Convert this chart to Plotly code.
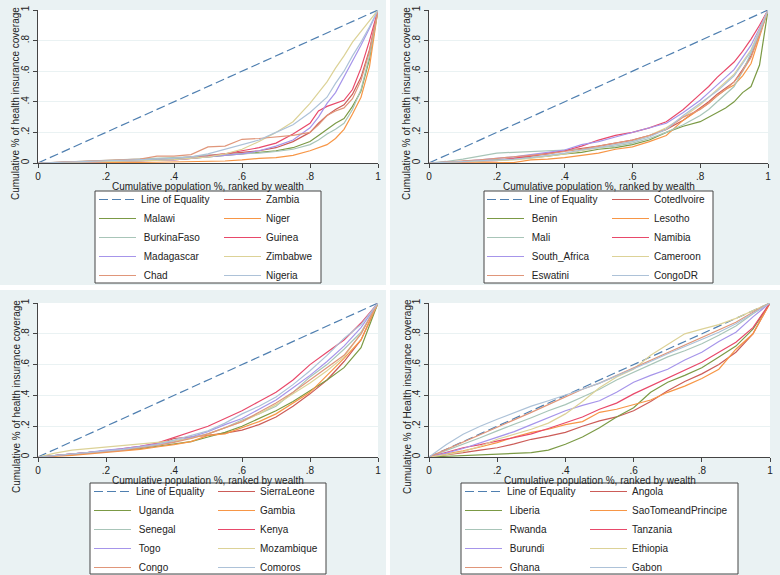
import plotly.graph_objects as go

W, H = 780, 575

# cumulative population share (x) used for the curves
pop_fine = [0, .05, .1, .15, .2, .25, .3, .35, .4, .45, .5, .55, .6, .65, .7, .75,
            .8, .825, .85, .875, .9, .925, .95, .975, 1]
pop_coarse = [0, .05, .1, .15, .2, .25, .3, .35, .4, .45, .5, .55, .6, .65, .7, .75,
              .8, .85, .9, .95, 1]
equality = [0, 1]

tick_vals = [0, .2, .4, .6, .8, 1]
tick_text = ["0", ".2", ".4", ".6", ".8", "1"]

x_title = "Cumulative population %, ranked by wealth"
y_titles = ["Cumulative % of health insurance coverage",
            "Cumulative % of health insurance coverage",
            "Cumulative % of health insurance coverage",
            "Cumulative % of Health insurance coverage"]

# panel 1
panel1 = {
    "Zambia":      [0, .003, .006, .01, .013, .016, .02, .025, .03, .04, .05, .06, .07, .08, .1, .14, .2, .26, .31, .35, .38, .45, .56, .74, 1],
    "Malawi":      [0, .002, .005, .008, .01, .013, .016, .02, .025, .03, .04, .05, .06, .07, .08, .1, .14, .18, .22, .26, .29, .37, .47, .68, 1],
    "Niger":       [0, 0, 0, .001, .002, .003, .004, .005, .006, .008, .01, .013, .02, .03, .035, .05, .08, .1, .12, .16, .22, .32, .43, .63, 1],
    "BurkinaFaso": [0, .004, .008, .012, .016, .02, .026, .03, .035, .04, .05, .055, .06, .065, .075, .09, .12, .15, .19, .22, .26, .35, .48, .7, 1],
    "Guinea":      [0, .002, .004, .006, .008, .01, .013, .016, .02, .03, .045, .06, .08, .1, .13, .19, .26, .34, .37, .39, .41, .48, .62, .8, 1],
    "Madagascar":  [0, .002, .004, .006, .008, .01, .012, .015, .02, .03, .04, .05, .06, .08, .11, .15, .23, .3, .39, .46, .56, .66, .77, .88, 1],
    "Zimbabwe":    [0, .002, .004, .006, .008, .01, .013, .017, .022, .03, .04, .06, .09, .14, .2, .27, .39, .46, .53, .62, .7, .79, .86, .93, 1],
    "Chad":        [0, .004, .008, .012, .016, .02, .025, .045, .045, .055, .105, .11, .155, .16, .17, .18, .2, .25, .31, .34, .36, .42, .54, .73, 1],
    "Nigeria":     [0, .003, .006, .009, .012, .015, .02, .025, .03, .04, .06, .09, .12, .15, .2, .25, .33, .38, .43, .52, .6, .7, .79, .89, 1],
}

# panel 2
panel2 = {
    "Cotedlvoire":  [0, .005, .01, .015, .02, .03, .045, .06, .08, .095, .11, .13, .15, .18, .22, .28, .36, .4, .45, .49, .53, .61, .7, .84, 1],
    "Benin":        [0, .005, .01, .015, .02, .025, .035, .045, .06, .07, .09, .1, .12, .15, .2, .24, .27, .3, .33, .36, .4, .46, .5, .64, 1],
    "Lesotho":      [0, 0, 0, 0, 0, .003, .02, .025, .035, .05, .065, .09, .105, .14, .18, .28, .35, .39, .44, .48, .51, .57, .65, .82, 1],
    "Mali":         [0, .01, .025, .045, .065, .07, .075, .08, .085, .09, .1, .11, .13, .16, .2, .25, .31, .35, .4, .45, .5, .6, .72, .84, 1],
    "Namibia":      [0, .003, .007, .01, .015, .03, .05, .065, .08, .11, .15, .18, .2, .23, .27, .35, .45, .5, .56, .61, .66, .73, .81, .9, 1],
    "South_Africa": [0, .005, .01, .02, .03, .04, .055, .07, .085, .12, .14, .17, .2, .23, .26, .33, .41, .46, .51, .56, .61, .69, .77, .88, 1],
    "Cameroon":     [0, .004, .008, .012, .016, .02, .03, .045, .06, .08, .1, .12, .14, .18, .23, .3, .38, .43, .48, .53, .58, .66, .74, .87, 1],
    "Eswatini":     [0, .006, .012, .02, .03, .04, .05, .06, .075, .09, .11, .13, .15, .18, .22, .3, .35, .39, .44, .48, .53, .6, .69, .84, 1],
    "CongoDR":      [0, .005, .01, .015, .02, .025, .035, .05, .065, .085, .1, .12, .14, .17, .22, .31, .39, .43, .47, .52, .57, .65, .73, .86, 1],
}

# panel 3
panel3 = {
    "SierraLeone": [0, .01, .02, .03, .04, .05, .065, .08, .12, .13, .14, .155, .175, .21, .26, .33, .41, .5, .62, .76, 1],
    "Uganda":      [0, .008, .016, .024, .035, .045, .055, .07, .085, .1, .13, .16, .2, .25, .3, .36, .43, .5, .58, .71, 1],
    "Gambia":      [0, .005, .01, .02, .03, .04, .05, .065, .08, .1, .14, .15, .19, .23, .28, .35, .42, .53, .64, .76, 1],
    "Senegal":     [0, .01, .02, .03, .04, .05, .065, .08, .1, .125, .15, .19, .24, .28, .33, .42, .52, .6, .7, .81, 1],
    "Kenya":       [0, .01, .02, .03, .04, .055, .07, .09, .125, .16, .2, .25, .3, .36, .42, .5, .6, .68, .76, .87, 1],
    "Togo":        [0, .01, .02, .03, .045, .055, .07, .085, .1, .13, .165, .21, .25, .31, .37, .45, .53, .62, .72, .84, 1],
    "Mozambique":  [0, .025, .045, .055, .065, .075, .085, .095, .105, .12, .15, .19, .23, .28, .34, .41, .48, .56, .65, .8, 1],
    "Congo":       [0, .008, .016, .025, .035, .045, .06, .075, .095, .12, .15, .19, .23, .29, .35, .42, .5, .58, .66, .8, 1],
    "Comoros":     [0, .01, .02, .03, .04, .05, .065, .08, .11, .14, .17, .22, .28, .33, .39, .47, .56, .66, .77, .86, 1],
}

# panel 4
panel4 = {
    "Angola":             [0, .012, .028, .045, .06, .085, .115, .135, .16, .2, .235, .26, .3, .36, .43, .49, .54, .6, .68, .8, 1],
    "Liberia":            [0, .005, .01, .013, .017, .022, .028, .045, .083, .13, .19, .26, .32, .42, .485, .53, .58, .65, .72, .83, 1],
    "SaoTomeandPrincipe": [0, .02, .04, .065, .093, .13, .16, .18, .21, .23, .29, .31, .34, .37, .42, .46, .51, .57, .7, .8, 1],
    "Rwanda":             [0, .04, .083, .125, .17, .21, .255, .3, .34, .39, .44, .5, .55, .6, .65, .69, .735, .79, .85, .93, 1],
    "Tanzania":           [0, .03, .06, .08, .104, .125, .15, .185, .22, .26, .31, .35, .41, .46, .51, .56, .615, .68, .745, .84, 1],
    "Burundi":            [0, .025, .055, .09, .126, .165, .21, .255, .3, .335, .365, .42, .485, .53, .57, .63, .68, .75, .81, .91, 1],
    "Ethiopia":           [0, .015, .035, .07, .115, .145, .18, .22, .28, .36, .45, .52, .57, .66, .73, .8, .83, .86, .9, .95, 1],
    "Ghana":              [0, .048, .095, .143, .19, .24, .29, .34, .39, .44, .48, .53, .58, .63, .68, .73, .78, .83, .875, .94, 1],
    "Gabon":              [0, .08, .148, .2, .245, .29, .33, .365, .4, .44, .48, .525, .57, .62, .67, .715, .76, .81, .865, .935, 1],
}

eq_color = "#4f7fb0"
series_colors = ["#cc5c58", "#7b9a45", "#f79646", "#a8c5b8", "#e8496a",
                 "#a695ea", "#dcd297", "#e0967a", "#adc2d8"]
panel_bg = "#eaf2f3"
axis_col = "#444444"
font_family = "Liberation Sans, Arial, sans-serif"


def px(x):
    return x / W


def py(y):
    return 1 - y / H


# pixel layout of each panel: background, plot area, legend box, legend columns
panels = [
    dict(data=panel1, x=pop_fine, bg=(0, 0, 386, 285), plot=(38, 10, 378, 163),
         box=(95, 191, 321, 283), cols=(94, 219), ytx=16),
    dict(data=panel2, x=pop_fine, bg=(390, 0, 780, 285), plot=(429, 10, 768, 163),
         box=(484, 191, 713, 283), cols=(482, 607), ytx=407),
    dict(data=panel3, x=pop_coarse, bg=(0, 290, 386, 575), plot=(38, 303, 378, 457),
         box=(90, 483, 326, 574), cols=(89, 213), ytx=16),
    dict(data=panel4, x=pop_coarse, bg=(390, 290, 780, 575), plot=(429, 303, 770, 457),
         box=(461, 483, 738, 574), cols=(460, 585), ytx=407),
]

fig = go.Figure()
shapes, annotations = [], []
layout = {}

for p, pan in enumerate(panels):
    n = "" if p == 0 else str(p + 1)
    left_leg = "legend" if p == 0 else f"legend{2 * p + 1}"
    right_leg = f"legend{2 * p + 2}"
    x0, y0, x1, y1 = pan["plot"]

    fig.add_trace(go.Scatter(
        x=equality, y=equality, mode="lines", name="Line of Equality",
        line=dict(color=eq_color, width=1.2, dash="9px,4px"),
        xaxis="x" + n, yaxis="y" + n, legend=left_leg, hoverinfo="skip"
    ))
    for k, (country, vals) in enumerate(pan["data"].items()):
        pos = k + 1
        on_left = pos % 2 == 0
        fig.add_trace(go.Scatter(
            x=pan["x"], y=vals, mode="lines",
            name=("\u00a0" + country) if on_left else country,
            line=dict(color=series_colors[k], width=1.2),
            xaxis="x" + n, yaxis="y" + n,
            legend=left_leg if on_left else right_leg
        ))

    layout["xaxis" + n] = dict(
        domain=[px(x0), px(x1)], anchor="y" + n, range=[0, 1], automargin=False,
        tickvals=tick_vals, ticktext=tick_text, ticks="outside", ticklen=4,
        tickcolor=axis_col, showline=True, linecolor=axis_col, linewidth=1,
        showgrid=False, zeroline=False, tickfont=dict(size=10, color="#222"),
    )
    layout["yaxis" + n] = dict(
        domain=[py(y1), py(y0)], anchor="x" + n, range=[0, 1], automargin=False,
        tickvals=tick_vals, ticktext=tick_text, ticks="outside", ticklen=4,
        tickcolor=axis_col, showline=True, linecolor=axis_col, linewidth=1,
        showgrid=True, gridcolor=panel_bg, gridwidth=1, zeroline=False,
        tickangle=-90, tickfont=dict(size=10, color="#222"),
    )

    bx0, by0, bx1, by1 = pan["bg"]
    shapes.append(dict(type="rect", xref="paper", yref="paper", layer="below",
                       x0=px(bx0), x1=px(bx1), y0=py(by1), y1=py(by0),
                       fillcolor=panel_bg, line=dict(width=0)))
    shapes.append(dict(type="rect", xref="paper", yref="paper", layer="below",
                       x0=px(x0), x1=px(x1), y0=py(y1), y1=py(y0),
                       fillcolor="white", line=dict(width=0)))
    lx0, ly0, lx1, ly1 = pan["box"]
    shapes.append(dict(type="rect", xref="paper", yref="paper", layer="below",
                       x0=px(lx0), x1=px(lx1), y0=py(ly1), y1=py(ly0),
                       fillcolor="white", line=dict(color=axis_col, width=1)))

    for c, col_x in enumerate(pan["cols"]):
        key = left_leg if c == 0 else right_leg
        layout[key] = dict(
            x=px(col_x), y=py(ly0 - 6), xanchor="left", yanchor="top",
            bgcolor="rgba(0,0,0,0)", borderwidth=0, tracegroupgap=0,
            itemwidth=37, font=dict(size=10, color="#222", family=font_family),
            traceorder="normal",
        )

    annotations.append(dict(
        text=x_title, xref="paper", yref="paper", showarrow=False,
        x=px((x0 + x1) / 2), y=py(y1 + 23), xanchor="center", yanchor="middle",
        font=dict(size=10, color="#222"),
    ))
    annotations.append(dict(
        text=y_titles[p], xref="paper", yref="paper", showarrow=False,
        x=px(pan["ytx"]), y=py(y0 + 94), textangle=-90,
        xanchor="center", yanchor="middle", font=dict(size=10, color="#222"),
    ))

fig.update_layout(
    width=W, height=H, margin=dict(l=0, r=0, t=0, b=0, autoexpand=False),
    paper_bgcolor="white", plot_bgcolor="white",
    font=dict(family=font_family, color="#222"),
    shapes=shapes, annotations=annotations, showlegend=True,
    **layout
)

# the page body has a default 8px margin; drop it so the figure fills the window
fig.write_html("out.html", config={"displayModeBar": False},
               post_script="document.body.style.margin='0px';")
